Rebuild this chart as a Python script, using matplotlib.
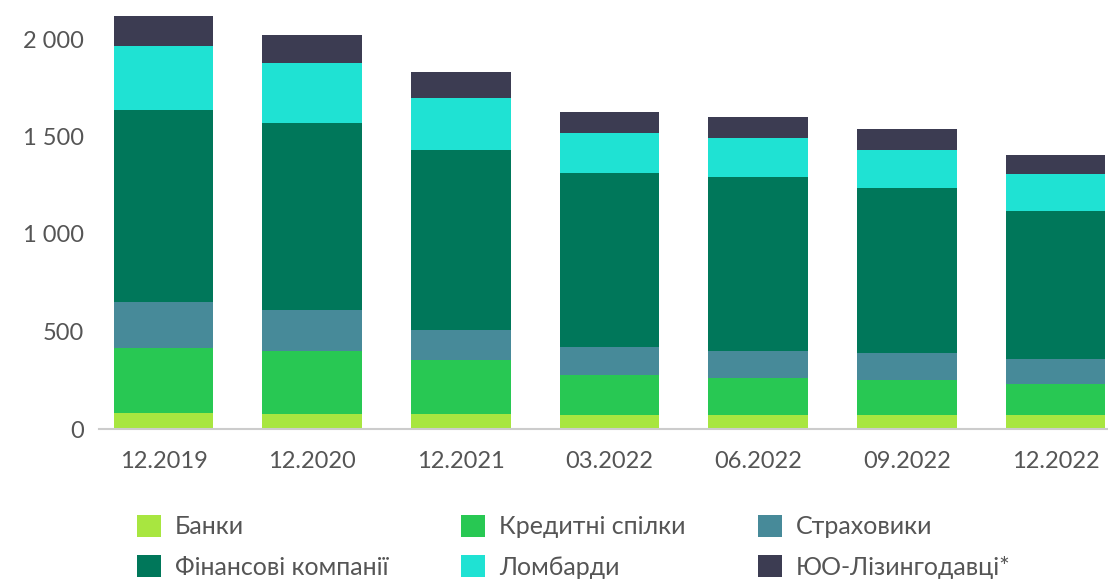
import numpy as np
import matplotlib
matplotlib.use('Agg')
import matplotlib.pyplot as plt
from matplotlib.patches import Patch

# Дані (оцінені з графіка)
periods = ['12.2019', '12.2020', '12.2021', '03.2022', '06.2022', '09.2022', '12.2022']
banks = [80, 77, 77, 70, 70, 72, 72]
credit_unions = [335, 324, 276, 207, 191, 179, 158]
insurers = [235, 208, 154, 145, 138, 138, 130]
fin_companies = [985, 960, 922, 893, 895, 847, 760]
pawnshops = [327, 306, 266, 203, 196, 193, 186]
lessors = [158, 145, 134, 109, 110, 109, 99]

series_names = ['Банки', 'Кредитні спілки', 'Страховики',
                'Фінансові компанії', 'Ломбарди', 'ЮО-Лізингодавці*']
colors = ['#a8e640', '#28c853', '#478a99', '#00775a', '#1fe2d3', '#3c3c52']

plt.rcParams['font.family'] = ['Lato', 'DejaVu Sans']
text_color = '#555555'

fig = plt.figure(figsize=(11.08, 5.81), dpi=100)
ax = fig.add_axes([99 / 1108, 1 - 429 / 581, 1 - 99 / 1108, 429 / 581])

x = np.arange(len(periods))
bottom = np.zeros(len(periods))
for name, vals, col in zip(series_names,
                           [banks, credit_unions, insurers, fin_companies, pawnshops, lessors],
                           colors):
    ax.bar(x, vals, width=0.67, bottom=bottom, color=col, edgecolor='none', label=name)
    bottom += np.array(vals)

ax.set_xlim(-0.434, 6.353)
ax.set_ylim(0, 2200)
ax.set_yticks([0, 500, 1000, 1500, 2000])
ax.set_yticklabels(['0', '500', '1 000', '1 500', '2 000'])
ax.set_xticks(x)
ax.set_xticklabels(periods)

for s in ['top', 'right', 'left']:
    ax.spines[s].set_visible(False)
ax.spines['bottom'].set_color('#cccccc')
ax.spines['bottom'].set_linewidth(1.5)

ax.tick_params(axis='y', length=0, pad=11, labelsize=17, labelcolor=text_color)
ax.tick_params(axis='x', length=0, pad=16, labelsize=17, labelcolor=text_color)

# легенда: 3 колонки, порядок по рядках
handles = [Patch(facecolor=c, edgecolor='none') for c in colors]
order = [0, 3, 1, 4, 2, 5]
leg = fig.legend([handles[i] for i in order], [series_names[i] for i in order],
                 ncol=3, loc='upper left', bbox_to_anchor=(137 / 1108, 1 - 515 / 581),
                 frameon=False, fontsize=18, handlelength=0.96, handleheight=0.96,
                 handletextpad=0.56, columnspacing=2.9, labelspacing=0.68,
                 borderpad=0, borderaxespad=0)
for t in leg.get_texts():
    t.set_color(text_color)

fig.savefig('out.png', dpi=100)
